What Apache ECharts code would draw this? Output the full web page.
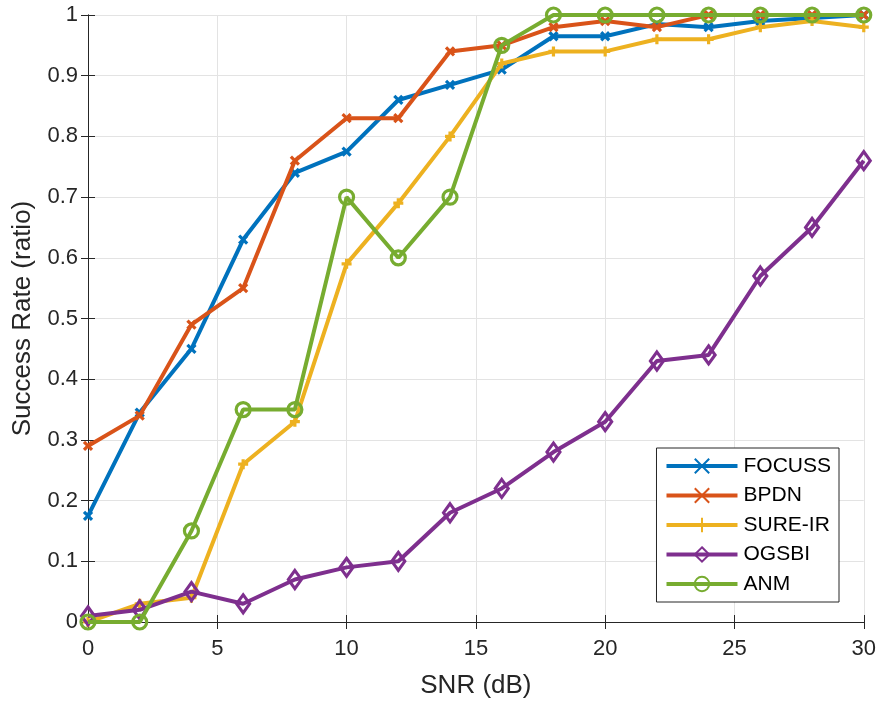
<!DOCTYPE html>
<html>
<head>
<meta charset="utf-8">
<script src="https://cdn.jsdelivr.net/npm/echarts@6/dist/echarts.min.js"></script>
<style>
  html, body { margin: 0; padding: 0; background: #fff; }
  #chart { width: 879px; height: 704px; }
</style>
</head>
<body>
<div id="chart"></div>
<script>
// SNR sweep (dB)
const snr = [0, 2, 4, 6, 8, 10, 12, 14, 16, 18, 20, 22, 24, 26, 28, 30];

// Success rate per method
const focuss = [0.175, 0.345, 0.45, 0.63, 0.74, 0.775, 0.86, 0.885, 0.91, 0.965, 0.965, 0.985, 0.98, 0.99, 0.995, 1.0];
const bpdn   = [0.29, 0.34, 0.49, 0.55, 0.76, 0.83, 0.83, 0.94, 0.95, 0.98, 0.99, 0.98, 1.0, 1.0, 1.0, 1.0];
const sureIr = [0.0, 0.03, 0.04, 0.26, 0.33, 0.59, 0.69, 0.80, 0.92, 0.94, 0.94, 0.96, 0.96, 0.98, 0.99, 0.98];
const ogsbi  = [0.01, 0.02, 0.05, 0.03, 0.07, 0.09, 0.10, 0.18, 0.22, 0.28, 0.33, 0.43, 0.44, 0.57, 0.65, 0.76];
const anm    = [0.0, 0.0, 0.15, 0.35, 0.35, 0.70, 0.60, 0.70, 0.95, 1.0, 1.0, 1.0, 1.0, 1.0, 1.0, 1.0];

const methodNames = ['FOCUSS', 'BPDN', 'SURE-IR', 'OGSBI', 'ANM'];
const methodValues = [focuss, bpdn, sureIr, ogsbi, anm];
const methodColors = ['#0072BD', '#D95319', '#EDB120', '#7E2F8E', '#77AC30'];

// Open marker outlines, stroked with the series colour
const crossPath = 'path://M0,0L10,10M0,10L10,0';
const plusPath = 'path://M5,0L5,10M0,5L10,5';
const methodSymbols = [crossPath, crossPath, plusPath, 'diamond', 'circle'];
const methodSymbolSizes = [8, 8, 10, [13, 18], 14];

const textColor = '#262626';
const font = 'Liberation Sans, Arial, Helvetica, sans-serif';

const series = methodNames.map((name, i) => ({
  name: name,
  type: 'line',
  data: snr.map((x, k) => [x, methodValues[i][k]]),
  symbol: methodSymbols[i],
  symbolSize: methodSymbolSizes[i],
  showAllSymbol: true,
  lineStyle: { color: methodColors[i], width: 4 },
  itemStyle: { color: 'rgba(0,0,0,0)', borderColor: methodColors[i], borderWidth: 3.2 },
  emphasis: { disabled: true },
  animation: false,
  z: 3 + i
}));

const chart = echarts.init(document.getElementById('chart'), null, { renderer: 'canvas' });

const axisLine = { show: true, lineStyle: { color: textColor, width: 1 } };
const innerTick = { show: true, inside: true, length: 7, lineStyle: { color: textColor } };

chart.setOption({
  backgroundColor: '#ffffff',
  animation: false,
  textStyle: { fontFamily: font },
  grid: { left: 88, right: 15, top: 15, bottom: 79, containLabel: false },
  legend: {
    data: methodNames,
    orient: 'vertical',
    right: 40,
    top: 448,
    itemWidth: 71,
    itemHeight: 18,
    itemGap: 8.5,
    padding: [7.5, 8, 7.5, 8],
    backgroundColor: '#ffffff',
    borderColor: '#262626',
    borderWidth: 1,
    borderRadius: 0,
    lineStyle: { width: 4 },
    textStyle: { fontSize: 21, color: '#000', fontFamily: font, padding: [0, 0, 0, 1] },
    selectedMode: false
  },
  xAxis: [
    {
      type: 'value', min: 0, max: 30, interval: 5,
      name: 'SNR (dB)', nameLocation: 'middle', nameGap: 51,
      nameTextStyle: { fontSize: 26, color: textColor, fontFamily: font },
      axisLine: axisLine,
      axisTick: innerTick,
      axisLabel: { fontSize: 22, color: textColor, margin: 16, fontFamily: font },
      splitLine: { show: true, lineStyle: { color: '#e3e3e3', width: 1 } }
    },
    {
      type: 'value', min: 0, max: 30, interval: 5, position: 'top',
      axisLine: axisLine,
      axisTick: innerTick,
      axisLabel: { show: false },
      splitLine: { show: false }
    }
  ],
  yAxis: [
    {
      type: 'value', min: 0, max: 1, interval: 0.1,
      name: 'Success Rate (ratio)', nameLocation: 'middle', nameGap: 52,
      nameTextStyle: { fontSize: 26, color: textColor, fontFamily: font },
      axisLine: axisLine,
      axisTick: innerTick,
      axisLabel: {
        fontSize: 22, color: textColor, margin: 10, fontFamily: font,
        formatter: v => (Math.abs(v) < 1e-9 ? '0' : parseFloat(v.toFixed(1)).toString())
      },
      splitLine: { show: true, lineStyle: { color: '#e3e3e3', width: 1 } }
    },
    {
      type: 'value', min: 0, max: 1, interval: 0.1, position: 'right',
      axisLine: axisLine,
      axisTick: innerTick,
      axisLabel: { show: false },
      splitLine: { show: false }
    }
  ],
  series: series
});
</script>
</body>
</html>
